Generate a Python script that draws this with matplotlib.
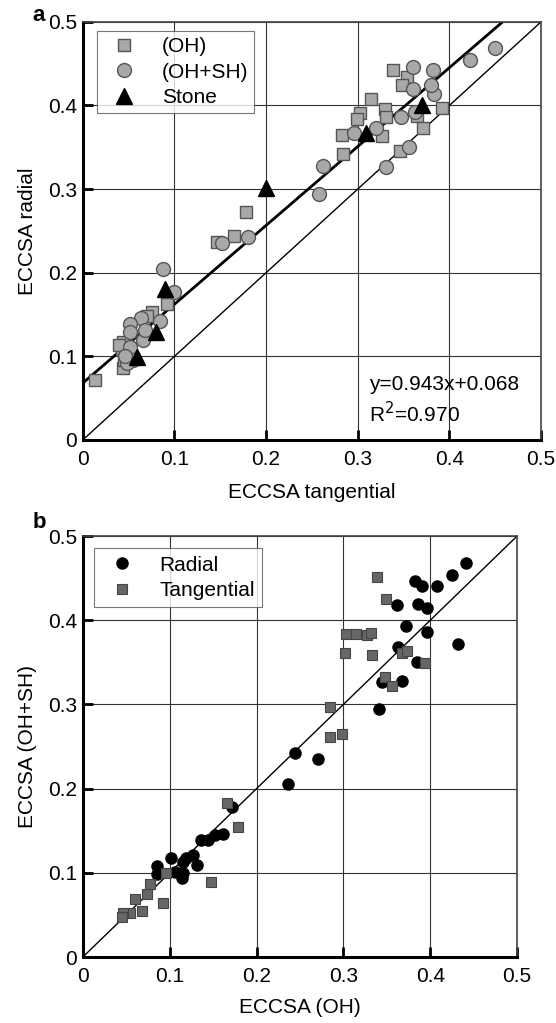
import numpy as np
import matplotlib
matplotlib.use('Agg')
import matplotlib.pyplot as plt

plt.rcParams['font.family'] = ['Liberation Sans', 'DejaVu Sans']

# panel a : ECCSA tangential vs radial
oh_tan = [0.338, 0.354, 0.348, 0.314, 0.302, 0.299, 0.330, 0.331, 0.365, 0.392,
          0.283, 0.326, 0.371, 0.284, 0.346, 0.178, 0.165, 0.146, 0.092, 0.076,
          0.070, 0.044, 0.043, 0.044, 0.040, 0.048, 0.045, 0.013]
oh_rad = [0.443, 0.434, 0.425, 0.408, 0.391, 0.384, 0.396, 0.386, 0.387, 0.397,
          0.365, 0.363, 0.373, 0.342, 0.345, 0.273, 0.244, 0.237, 0.162, 0.153,
          0.148, 0.117, 0.108, 0.086, 0.114, 0.100, 0.095, 0.072]
ohsh_tan = [0.450, 0.422, 0.360, 0.382, 0.360, 0.383, 0.380, 0.362, 0.347, 0.320,
            0.296, 0.356, 0.331, 0.262, 0.258, 0.152, 0.180, 0.087, 0.099, 0.063,
            0.052, 0.084, 0.052, 0.066, 0.068, 0.051, 0.055, 0.048, 0.046]
ohsh_rad = [0.469, 0.455, 0.446, 0.442, 0.420, 0.414, 0.424, 0.392, 0.386, 0.373,
            0.367, 0.350, 0.327, 0.328, 0.294, 0.235, 0.243, 0.204, 0.177, 0.146,
            0.139, 0.142, 0.129, 0.120, 0.132, 0.111, 0.096, 0.092, 0.100]
stone_tan = [0.370, 0.309, 0.200, 0.090, 0.080, 0.059]
stone_rad = [0.401, 0.367, 0.301, 0.180, 0.129, 0.099]
slope, intercept, r2 = 0.943, 0.068, 0.970

# panel b : ECCSA (OH) vs (OH+SH)
rad_oh = [0.441, 0.425, 0.382, 0.391, 0.408, 0.362, 0.386, 0.396, 0.372, 0.396,
          0.432, 0.363, 0.385, 0.344, 0.367, 0.341, 0.244, 0.271, 0.236, 0.172,
          0.161, 0.152, 0.144, 0.136, 0.127, 0.132, 0.119, 0.115, 0.102, 0.106,
          0.115, 0.114, 0.085, 0.085]
rad_ohsh = [0.468, 0.454, 0.447, 0.441, 0.441, 0.418, 0.419, 0.414, 0.393, 0.386,
            0.372, 0.368, 0.350, 0.327, 0.328, 0.295, 0.242, 0.235, 0.205, 0.178,
            0.146, 0.145, 0.139, 0.139, 0.121, 0.109, 0.118, 0.113, 0.118, 0.101,
            0.100, 0.094, 0.108, 0.099]
tan_oh = [0.339, 0.349, 0.303, 0.315, 0.327, 0.332, 0.302, 0.333, 0.367, 0.373,
          0.394, 0.348, 0.356, 0.285, 0.285, 0.298, 0.166, 0.179, 0.096, 0.147,
          0.077, 0.074, 0.060, 0.092, 0.068, 0.054, 0.046, 0.045]
tan_ohsh = [0.451, 0.425, 0.384, 0.384, 0.382, 0.385, 0.361, 0.359, 0.361, 0.364,
            0.349, 0.333, 0.322, 0.297, 0.261, 0.265, 0.183, 0.154, 0.100, 0.089,
            0.087, 0.075, 0.069, 0.064, 0.055, 0.052, 0.052, 0.048]

ticks = [0, 0.1, 0.2, 0.3, 0.4, 0.5]
tick_labels = ['0', '0.1', '0.2', '0.3', '0.4', '0.5']
fs = 15


def style_axes(ax):
    ax.set_xlim(0, 0.5)
    ax.set_ylim(0, 0.5)
    ax.set_xticks(ticks)
    ax.set_yticks(ticks)
    ax.set_xticklabels(tick_labels, fontsize=fs)
    ax.set_yticklabels(tick_labels, fontsize=fs)
    ax.grid(True, color='#333333', linewidth=0.8)
    ax.set_axisbelow(True)
    ax.tick_params(direction='in', length=7, width=2, color='black')
    ax.tick_params(axis='y', pad=4)
    ax.tick_params(axis='x', pad=7)
    for s in ['left', 'bottom']:
        ax.spines[s].set_linewidth(2.2)
        ax.spines[s].set_color('black')
    for s in ['top', 'right']:
        ax.spines[s].set_linewidth(1.2)
        ax.spines[s].set_color('#444444')


fig = plt.figure(figsize=(5.56, 10.23), dpi=100)

# ---- panel a
ax1 = fig.add_axes([0.149, 0.570, 0.824, 0.4086])
style_axes(ax1)
ax1.plot([0, 0.5], [0, 0.5], color='black', linewidth=1.0, zorder=2)
xf = np.array([0, (0.5 - intercept) / slope])
ax1.plot(xf, slope * xf + intercept, color='black', linewidth=2.0, zorder=2)
ax1.plot(oh_tan, oh_rad, 's', ms=8, mfc='#a8a8a8', mec='#555555', mew=1.0,
         label='(OH)', zorder=3)
ax1.plot(ohsh_tan, ohsh_rad, 'o', ms=10, mfc='#a8a8a8', mec='#555555', mew=1.0,
         label='(OH+SH)', zorder=3)
ax1.plot(stone_tan, stone_rad, '^', ms=11, color='black', label='Stone', zorder=4)
leg = ax1.legend(loc='upper left', fontsize=fs, frameon=True, fancybox=False,
                 edgecolor='#555555', borderpad=0.3, handletextpad=0.8,
                 labelspacing=0.3, bbox_to_anchor=(0.031, 0.978), borderaxespad=0)
leg.get_frame().set_linewidth(0.8)
ax1.text(0.312, 0.066, 'y=0.943x+0.068', fontsize=fs, va='center')
ax1.text(0.312, 0.031, 'R$^2$=0.970', fontsize=fs, va='center')
ax1.set_xlabel('ECCSA tangential', fontsize=fs, labelpad=10)
ax1.set_ylabel('ECCSA radial', fontsize=fs, labelpad=8)
fig.text(0.058, 0.985, 'a', fontsize=16, fontweight='bold', va='center')

# ---- panel b
ax2 = fig.add_axes([0.149, 0.0645, 0.781, 0.4115])
style_axes(ax2)
ax2.plot([0, 0.5], [0, 0.5], color='black', linewidth=1.0, zorder=2)
ax2.plot(rad_oh, rad_ohsh, 'o', ms=8, color='black', label='Radial', zorder=3)
ax2.plot(tan_oh, tan_ohsh, 's', ms=7, mfc='#666666', mec='#444444', mew=0.8,
         label='Tangential', zorder=3)
leg2 = ax2.legend(loc='upper left', fontsize=fs, frameon=True, fancybox=False,
                  edgecolor='#555555', borderpad=0.35, handletextpad=0.8,
                  labelspacing=0.3, bbox_to_anchor=(0.025, 0.971), borderaxespad=0)
leg2.get_frame().set_linewidth(0.8)
ax2.set_xlabel('ECCSA (OH)', fontsize=fs, labelpad=9)
ax2.set_ylabel('ECCSA (OH+SH)', fontsize=fs, labelpad=8)
fig.text(0.058, 0.489, 'b', fontsize=16, fontweight='bold', va='center')

fig.savefig('out.png', dpi=100)
